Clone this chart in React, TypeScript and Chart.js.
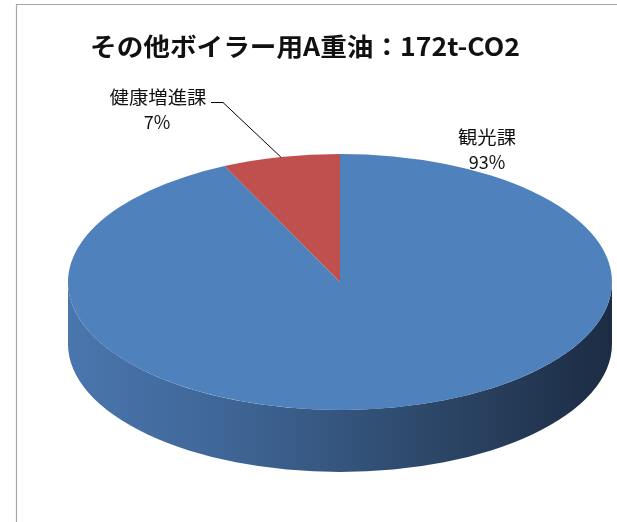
import React, { useEffect, useRef } from "react";
import { Chart, registerables } from "chart.js";

Chart.register(...registerables);

const TITLE = "その他ボイラー用A重油：172t-CO2";
const categories = ["観光課", "健康増進課"];
const values = [160, 12];

const TOP_COLORS = ["#4f81bd", "#c0504d"];
const SIDE_GRADIENTS = [
  ["#4a76ae", "#3d6392", "#2d4769", "#1c2c43"],
  ["#a04340", "#8a3a37", "#6e2e2c", "#4f2120"],
];
const SX = 2.125; // horizontal stretch of the pie ellipse
const DEPTH = 62; // thickness of the 3D side

const FONT = '"Noto Sans CJK JP", "Noto Sans", sans-serif';

function pct(v: number): string {
  const sum = values.reduce((a, b) => a + b, 0);
  return Math.round((v / sum) * 100) + "%";
}

function drawText(
  ctx: CanvasRenderingContext2D,
  text: string,
  cx: number,
  cy: number,
  font: string,
  targetWidth?: number
) {
  ctx.save();
  ctx.font = font;
  ctx.textAlign = "center";
  ctx.textBaseline = "middle";
  ctx.fillStyle = "#111";
  const w = ctx.measureText(text).width;
  const s = targetWidth ? targetWidth / w : 1;
  ctx.translate(cx, cy);
  ctx.scale(s, 1);
  ctx.fillText(text, 0, 0);
  ctx.restore();
}

const pie3d = {
  id: "pie3d",
  beforeDatasetsDraw(chart: any) {
    const ctx: CanvasRenderingContext2D = chart.ctx;
    const meta = chart.getDatasetMeta(0);
    meta.data.forEach((arc: any, i: number) => {
      const { x, y, startAngle, endAngle, outerRadius } = arc;
      const rx = outerRadius * SX;
      const ry = outerRadius;
      const g = ctx.createLinearGradient(x - rx, 0, x + rx, 0);
      const stops = SIDE_GRADIENTS[i % SIDE_GRADIENTS.length];
      stops.forEach((c, k) => g.addColorStop(k / (stops.length - 1), c));
      for (const k of [-1, 0, 1]) {
        const a0 = Math.max(startAngle, 2 * Math.PI * k);
        const a1 = Math.min(endAngle, 2 * Math.PI * k + Math.PI);
        if (a1 <= a0) continue;
        ctx.save();
        ctx.beginPath();
        ctx.ellipse(x, y, rx, ry, 0, a0, a1, false);
        ctx.lineTo(x + rx * Math.cos(a1), y + ry * Math.sin(a1) + DEPTH);
        ctx.ellipse(x, y + DEPTH, rx, ry, 0, a1, a0, true);
        ctx.closePath();
        ctx.fillStyle = g;
        ctx.fill();
        ctx.restore();
      }
    });
  },
  beforeDatasetDraw(chart: any) {
    const ctx: CanvasRenderingContext2D = chart.ctx;
    const arc = chart.getDatasetMeta(0).data[0];
    ctx.save();
    ctx.translate(arc.x, arc.y);
    ctx.scale(SX, 1);
    ctx.translate(-arc.x, -arc.y);
  },
  afterDatasetDraw(chart: any) {
    chart.ctx.restore();
  },
  afterDraw(chart: any) {
    const ctx: CanvasRenderingContext2D = chart.ctx;
    // frame
    ctx.save();
    ctx.strokeStyle = "#a6a6a6";
    ctx.lineWidth = 1.2;
    ctx.beginPath();
    ctx.moveTo(16.5, 530);
    ctx.lineTo(16.5, 4.5);
    ctx.lineTo(620, 4.5);
    ctx.stroke();
    ctx.restore();

    // title
    drawText(ctx, TITLE, 305, 46, `bold 25px ${FONT}`, 430);

    // labels
    const meta = chart.getDatasetMeta(0);
    drawText(ctx, categories[0], 487, 137, `18px ${FONT}`, 58);
    drawText(ctx, pct(values[0]), 487, 162, `18px ${FONT}`);
    drawText(ctx, categories[1], 158, 97, `18px ${FONT}`, 97);
    drawText(ctx, pct(values[1]), 157, 122, `18px ${FONT}`);

    // leader line to the red slice
    const arc = meta.data[1];
    const mid = (arc.startAngle + arc.endAngle) / 2;
    const px = arc.x + arc.outerRadius * SX * Math.cos(mid);
    const py = arc.y + arc.outerRadius * Math.sin(mid);
    ctx.save();
    ctx.strokeStyle = "#000";
    ctx.lineWidth = 1;
    ctx.beginPath();
    ctx.moveTo(211, 102.5);
    ctx.lineTo(223, 102.5);
    ctx.lineTo(px, py);
    ctx.stroke();
    ctx.restore();
  },
};

export default function App() {
  const ref = useRef<HTMLCanvasElement>(null);
  useEffect(() => {
    if (!ref.current) return;
    const chart = new Chart(ref.current, {
      type: "pie",
      data: {
        labels: categories,
        datasets: [
          {
            data: values,
            backgroundColor: TOP_COLORS,
            borderWidth: 0,
            clip: false as any,
          },
        ],
      },
      options: {
        animation: false,
        responsive: true,
        maintainAspectRatio: false,
        events: [],
        layout: { padding: { left: 64, right: 1, top: 154, bottom: 112 } },
        plugins: {
          legend: { display: false },
          tooltip: { enabled: false },
          title: { display: false },
        },
      },
      plugins: [pie3d],
    });
    return () => chart.destroy();
  }, []);
  return (
    <div
      style={{
        position: "absolute",
        left: 0,
        top: 0,
        width: 617,
        height: 522,
        background: "#fff",
      }}
    >
      <canvas ref={ref} />
    </div>
  );
}
